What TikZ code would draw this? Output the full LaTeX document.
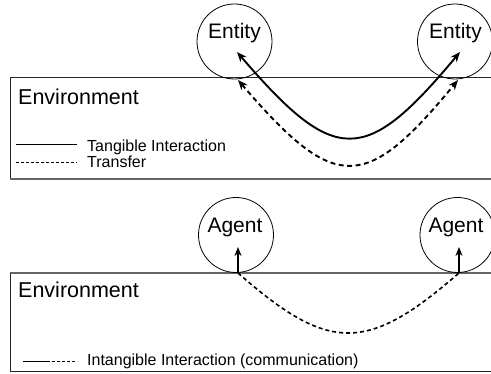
\documentclass[tikz,border=0pt]{standalone}
\usepackage{fontspec}
\setmainfont{Liberation Sans}
\usetikzlibrary{arrows.meta}
\begin{document}
\begin{tikzpicture}[x=1pt,y=-1pt,
  circ/.style={draw, circle, minimum size=75pt, inner sep=0pt, line width=0.8pt},
  big/.style={font=\fontsize{21}{25}\selectfont, inner sep=0pt, anchor=base},
  envtxt/.style={font=\fontsize{21.5}{25}\selectfont, inner sep=0pt, anchor=base west},
  legtxt/.style={font=\fontsize{16}{19}\selectfont, inner sep=0pt, anchor=base west},
  boxline/.style={line width=1pt, black!85},
  boxbottom/.style={line width=2pt, black!60},
  thickarr/.style={line width=1.9pt, {Stealth[length=10pt,width=8pt]}-{Stealth[length=10pt,width=8pt]}},
  thickdash/.style={line width=1.9pt, dash pattern=on 5pt off 3.5pt, {Stealth[length=10pt,width=8pt]}-{Stealth[length=10pt,width=8pt]}},
  uparr/.style={line width=1.9pt, -{Stealth[length=9pt,width=7pt]}},
  legsolid/.style={line width=0.9pt},
  legdash/.style={line width=0.9pt, dash pattern=on 3pt off 2pt}
]
\useasboundingbox (0,0) rectangle (491,374);

% ---------- top panel ----------
\draw[boxline] (491,78) -- (10,78) -- (10,179);
\draw[boxbottom] (10,179) -- (491,179);
\node[envtxt] (env1) at (18,105) {Environment};

\node[circ] (e1) at (234.5,41.5) {};
\node[circ] (e2) at (455,41.5) {};
\node[big] (e1t) at (234.5,39) {Entity};
\node[big] (e2t) at (455.5,39) {Entity};

\coordinate (s1) at (237,52);
\coordinate (s2) at (460,52);
\coordinate (d1) at (238,80);
\coordinate (d2) at (458,80);
\draw[thickarr] (s1) .. controls (335,166) and (365,166) .. (s2);
\draw[thickdash] (d1) .. controls (335,193) and (365,193) .. (d2);

\coordinate (l1a) at (16,144);
\coordinate (l1b) at (77,144);
\coordinate (l2a) at (16,162);
\coordinate (l2b) at (77,162);
\draw[legsolid] (l1a) -- (l1b);
\draw[legdash] (l2a) -- (l2b);
\node[legtxt] (lt1) at (87,152) {Tangible Interaction};
\node[legtxt] (lt2) at (87,168) {Transfer};

% ---------- bottom panel ----------
\draw[boxbottom] (10,273) -- (491,273);
\draw[boxline] (10,273) -- (10,372) -- (491,372);
\node[envtxt] (env2) at (18,298) {Environment};

\node[circ] (a1) at (236,235) {};
\node[circ] (a2) at (457.5,235) {};
\node[big] (a1t) at (235,233) {Agent};
\node[big] (a2t) at (456,233) {Agent};

\coordinate (b1) at (238,273);
\coordinate (b2) at (459,273);
\coordinate (t1) at (238,247);
\coordinate (t2) at (459,247);
\draw[uparr] (b1) -- (t1);
\draw[uparr] (b2) -- (t2);
\draw[line width=1.6pt, dash pattern=on 4pt off 3pt] (b1) .. controls (329,353) and (367,353) .. (b2);

\coordinate (l3a) at (23,361);
\coordinate (l3m) at (47,361);
\coordinate (l3b) at (77,361);
\draw[legsolid] (l3a) -- (l3m);
\draw[legdash] (l3m) -- (l3b);
\node[legtxt] (lt3) at (87,366) {Intangible Interaction (communication)};
\end{tikzpicture}
\end{document}
